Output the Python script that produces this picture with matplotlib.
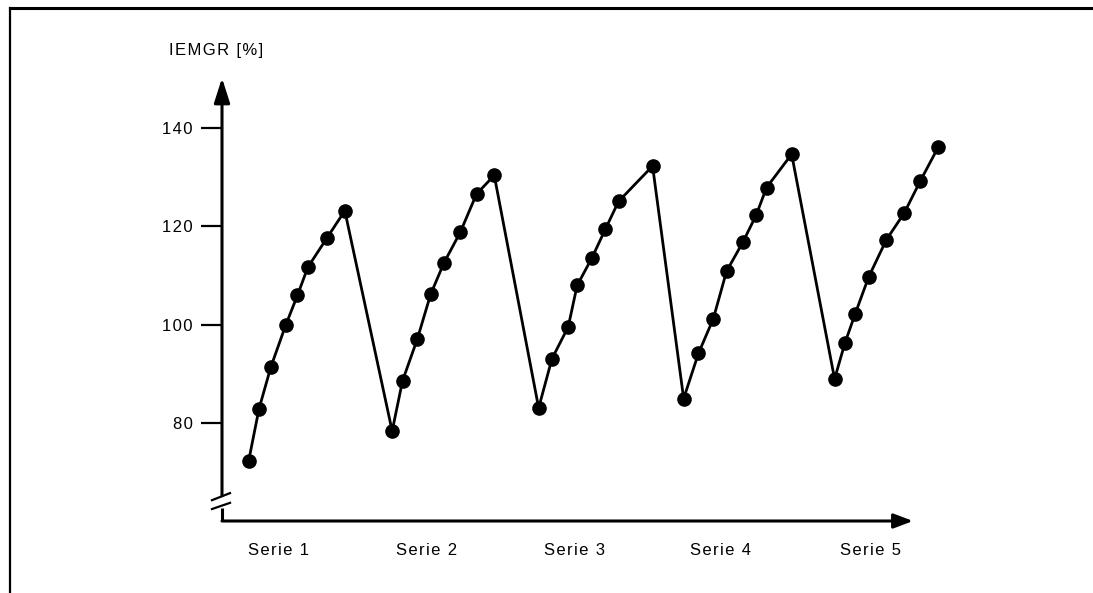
import numpy as np
import matplotlib
matplotlib.use("Agg")
from matplotlib import pyplot as plt
from matplotlib.lines import Line2D

plt.rcParams['font.family'] = ['Liberation Sans', 'DejaVu Sans']

# x position of each repetition (series units), y = IEMGR in %
s1_x = [0.18, 0.25, 0.33, 0.43, 0.51, 0.58, 0.71, 0.83]
s1_y = [72.3, 82.9, 91.4, 99.9, 106.0, 111.7, 117.7, 123.2]
s2_x = [1.15, 1.22, 1.32, 1.41, 1.50, 1.61, 1.72, 1.84]
s2_y = [78.4, 88.6, 97.1, 106.2, 112.6, 118.8, 126.6, 130.4]
s3_x = [2.14, 2.23, 2.34, 2.40, 2.50, 2.59, 2.68, 2.91]
s3_y = [83.1, 93.1, 99.6, 108.0, 113.6, 119.4, 125.1, 132.3]
s4_x = [3.12, 3.22, 3.32, 3.41, 3.52, 3.61, 3.68, 3.85]
s4_y = [85.0, 94.2, 101.2, 110.9, 116.8, 122.3, 127.9, 134.7]
s5_x = [4.14, 4.21, 4.28, 4.37, 4.49, 4.61, 4.72, 4.84]
s5_y = [89.0, 96.3, 102.3, 109.7, 117.3, 122.7, 129.3, 136.1]

series_names = ["Serie 1", "Serie 2", "Serie 3", "Serie 4", "Serie 5"]
series_pos = [0.38, 1.38, 2.38, 3.37, 4.38]
yticks = [80, 100, 120, 140]

x = s1_x + s2_x + s3_x + s4_x + s5_x
y = s1_y + s2_y + s3_y + s4_y + s5_y


def spaced(s):
    # the original text is drawn with a little letter spacing
    return '\u200a'.join(s)


W, H = 1093, 593
fig = plt.figure(figsize=(W / 100, H / 100), dpi=100)
ax = fig.add_axes([222 / W, 1 - 521 / H, (913 - 222) / W, (521 - 78) / H])

ax.plot(x, y, color='black', lw=2, marker='o', ms=9.5, clip_on=False, zorder=5)
ax.set_xlim(0, 4.67)
ax.set_ylim(60.1, 150.2)

for s in ax.spines.values():
    s.set_visible(False)

ax.set_yticks(yticks)
ax.set_yticklabels([spaced(str(v)) for v in yticks])
ax.tick_params(axis='y', length=15, width=1.6, pad=6, labelsize=12)
ax.set_xticks(series_pos)
ax.set_xticklabels([spaced(n) for n in series_names])
ax.tick_params(axis='x', length=0, pad=16, labelsize=12)

# axes lines with arrows
lw_ax = 2.2
ax.annotate('', xy=(1.0, 0), xytext=(0, 0), xycoords='axes fraction',
            arrowprops=dict(arrowstyle='-|>,head_length=0.58,head_width=0.22',
                            mutation_scale=20, lw=lw_ax, color='black',
                            shrinkA=0, shrinkB=0))
ax.annotate('', xy=(0, 1.0), xytext=(0, 0.057), xycoords='axes fraction',
            arrowprops=dict(arrowstyle='-|>,head_length=0.75,head_width=0.24',
                            mutation_scale=20, lw=lw_ax, color='black',
                            shrinkA=0, shrinkB=0))
ax.plot([0, 0], [0, 0.03], transform=ax.transAxes, color='black', lw=lw_ax,
        clip_on=False, solid_capstyle='butt')
# axis break marks
ax.plot([-0.0145, 0.0116], [0.047, 0.063], transform=ax.transAxes, color='black',
        lw=1.6, clip_on=False)
ax.plot([-0.0145, 0.0116], [0.027, 0.041], transform=ax.transAxes, color='black',
        lw=1.6, clip_on=False)

# y label
fig.text(216 / W, 1 - 51 / H, spaced('IEMGR [%]'), ha='center', va='center', fontsize=12)

# outer frame (left and top)
fig.add_artist(Line2D([9.5 / W, 9.5 / W], [0, 1 - 8 / H], color='black', lw=1.6))
fig.add_artist(Line2D([9.5 / W, 1], [1 - 8 / H, 1 - 8 / H], color='black', lw=2.2))

fig.savefig('out.png', dpi=100)
